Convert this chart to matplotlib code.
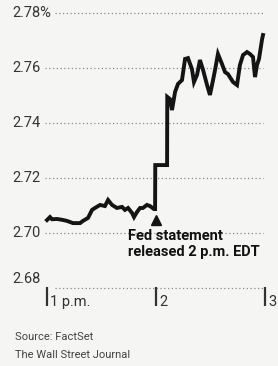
import matplotlib
matplotlib.use("Agg")
import matplotlib.pyplot as plt

# minutes after 1 p.m.
minutes = [0.0, 1.65, 2.75, 5.5, 8.3, 11.0, 14.3, 18.2, 19.8, 22.6, 24.8, 26.4, 29.2, 31.9,
           33.6, 35.8, 38.5, 41.3, 42.9, 44.6, 46.8, 47.9, 49.5, 51.2, 52.8, 55.0, 56.7,
           58.9, 59.5, 59.6, 66.1, 66.2, 67.7, 68.8, 70.5, 72.1, 74.3, 76.0, 77.6, 79.8,
           80.9, 82.6, 84.2, 85.9, 88.1, 89.7, 91.4, 92.5, 94.1, 96.3, 98.0, 99.6, 102.4,
           104.6, 106.2, 107.9, 110.1, 111.7, 113.4, 114.5, 115.6, 116.7, 118.4, 118.9]
yields = [2.7047, 2.7058, 2.7050, 2.7051, 2.7048, 2.7044, 2.7036, 2.7036, 2.7044, 2.7055,
          2.7084, 2.7091, 2.7102, 2.7098, 2.7120, 2.7102, 2.7091, 2.7095, 2.7084, 2.7091,
          2.7073, 2.7058, 2.7076, 2.7091, 2.7091, 2.7102, 2.7098, 2.7087, 2.7087, 2.7247,
          2.7247, 2.7495, 2.7487, 2.7447, 2.7513, 2.7542, 2.7556, 2.7633, 2.7636, 2.7596,
          2.7549, 2.7575, 2.7629, 2.7593, 2.7538, 2.7502, 2.7556, 2.7593, 2.7651, 2.7615,
          2.7585, 2.7578, 2.7549, 2.7538, 2.7611, 2.7647, 2.7658, 2.7651, 2.7640, 2.7567,
          2.7611, 2.7633, 2.7705, 2.7720]

y_ticks = [2.78, 2.76, 2.74, 2.72, 2.70, 2.68]
y_labels = ["2.78%", "2.76", "2.74", "2.72", "2.70", "2.68"]
x_ticks = [0, 60, 120]
x_labels = ["1 p.m.", "2", "3"]
event_minute = 60
event_label = "Fed statement\nreleased 2 p.m. EDT"
source = "Source: FactSet"
credit = "The Wall Street Journal"

W, H = 278, 366
BG = "#f5f5f3"
fig = plt.figure(figsize=(W / 100, H / 100), dpi=100, facecolor=BG)

L, R, T, B = 47, 265, 13, 288
ax = fig.add_axes([L / W, 1 - B / H, (R - L) / W, (B - T) / H])
ax.set_xlim(0, 120)
ax.set_ylim(2.68, 2.78)
ax.axis("off")
ax.set_facecolor(BG)

def px2x(px):
    return (px - L) / (R - L) * 120

FONT = "Roboto"
TXT = "#333333"

grid_start = {2.78: 55, 2.76: 45, 2.74: 45, 2.72: 45, 2.70: 45, 2.68: 55}
for v, lab in zip(y_ticks, y_labels):
    ax.hlines(v, px2x(grid_start[v]), px2x(263), colors="#8a8a8a",
              linestyles=(0, (1, 2)), lw=0.9, clip_on=False, zorder=1)
    if v == 2.68:
        ax.text(px2x(12), v + 0.0008, lab, ha="left", va="bottom", fontsize=10.5,
                family=FONT, color=TXT, clip_on=False)
    else:
        ax.text(px2x(12), v, lab, ha="left", va="center", fontsize=10.5,
                family=FONT, color=TXT, clip_on=False)

ax.plot(minutes, yields, color="#141414", lw=2.8, solid_joinstyle="miter",
        zorder=3, clip_on=False)

# x ticks: vertical bars below the baseline
for xt, lab in zip(x_ticks, x_labels):
    ax.plot([xt, xt], [2.6805, 2.6805 - 19 / 2750], color="#333333", lw=1.6,
            clip_on=False, solid_capstyle="butt")
    ax.text(xt + px2x(L + 3), 2.6805 - 19 / 2750, lab, ha="left", va="baseline",
            fontsize=10.5, family=FONT, color=TXT, clip_on=False)

ax.plot([event_minute], [2.7047], marker="^", ms=7, color="#141414", zorder=4,
        clip_on=False)
fig.text(128 / W, 1 - 229 / H, event_label, ha="left", va="top", fontsize=10.5,
         family=FONT, fontweight="bold", color="#111111", linespacing=1.15)

fig.text(15 / W, 1 - 340 / H, source, ha="left", va="baseline", fontsize=8,
         family=FONT, color="#444444")
fig.text(15 / W, 1 - 358 / H, credit, ha="left", va="baseline", fontsize=8,
         family=FONT, color="#444444")

fig.savefig("out.png", dpi=100, facecolor=BG)
